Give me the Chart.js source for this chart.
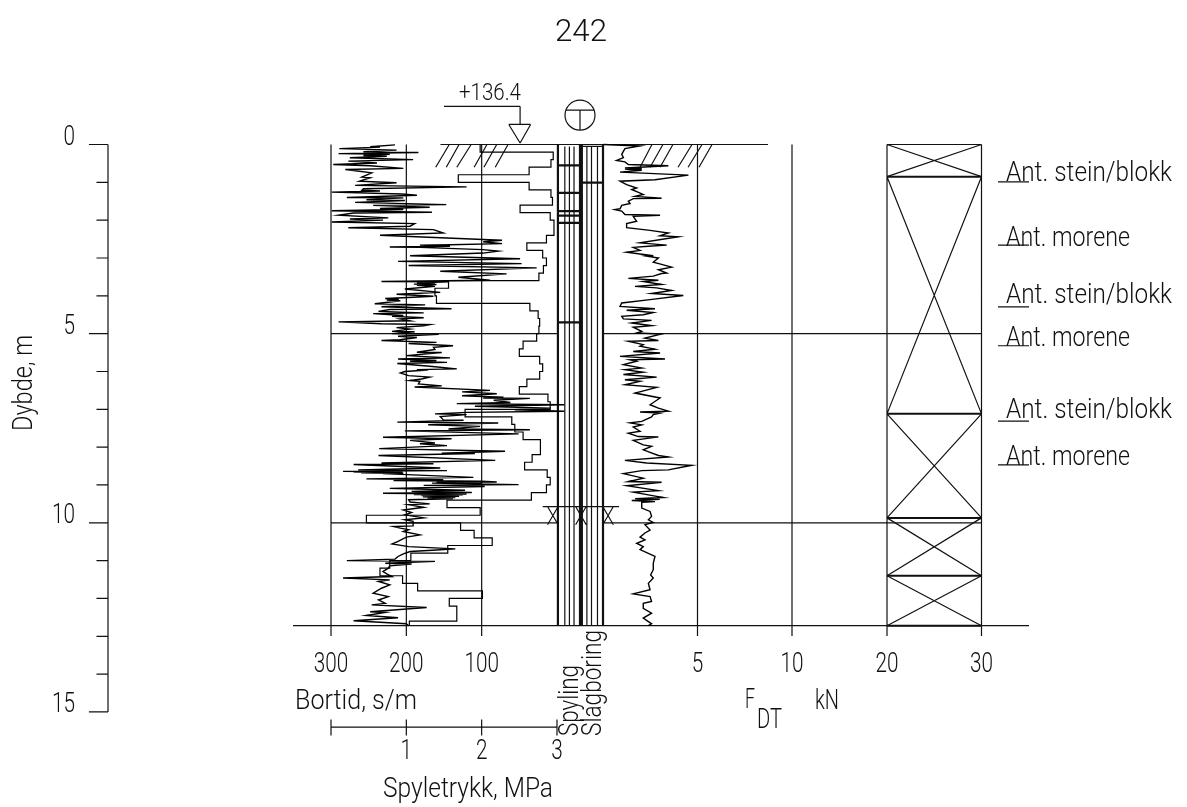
<!DOCTYPE html>
<html>
<head>
<meta charset="utf-8">
<title>242</title>
<script src="https://cdn.jsdelivr.net/npm/chart.js@4"></script>
<style>
  body { margin: 0; background: #fff; }
  canvas { display: block; }
</style>
</head>
<body>
<canvas id="chart" width="1187" height="807"></canvas>
<script>
// tick labels
const depthTicks = [0, 5, 10, 15];
const bortidTicks = [300, 200, 100];
const forceTicks = [5, 10];
const boxTicks = [20, 30];
const pressureTicks = [1, 2, 3];

// Bortid, s/m  [depth m, value]
const bortid = [[.01,215],[.06,248],[.07,235],[.11,289],[.15,213],[.19,257],[.21,184],[.24,290],[.26,222],[.29,257],[.31,226],[.35,275],[.40,191],[.44,277],[.49,239],[.53,297],[.56,248],[.63,204],[.66,281],[.75,246],[.86,259],[.88,248],[.97,262],[1.01,213],[1.08,268],[1.12,120],[1.17,257],[1.21,259],[1.23,235],[1.26,299],[1.31,206],[1.34,186],[1.40,279],[1.41,204],[1.46,253],[1.48,202],[1.53,268],[1.59,147],[1.61,244],[1.66,169],[1.69,235],[1.72,204],[1.75,299],[1.79,166],[1.81,270],[1.87,290],[1.94,224],[1.97,275],[2.0,231],[2.05,299],[2.09,189],[2.16,195],[2.20,277],[2.25,164],[2.34,151],[2.40,235],[2.51,98],[2.53,73],[2.57,98],[2.62,73],[2.65,142],[2.66,182],[2.69,142],[2.71,222],[2.72,182],[2.78,98],[2.82,78],[2.87,98],[2.94,195],[3.02,49],[3.09,211],[3.15,47],[3.2,197],[3.26,27],[3.35,155],[3.42,67],[3.51,131],[3.59,89],[3.62,233],[3.63,144],[3.66,186],[3.67,162],[3.69,190],[3.70,160],[3.72,186],[3.75,162],[3.82,202],[3.91,155],[3.96,213],[4.01,164],
[4.05,205],[4.07,228],[4.09,210],[4.11,226],[4.13,208],[4.17,224],[4.21,242],[4.24,175],[4.29,233],[4.34,140],[4.36,222],[4.41,237],[4.45,177],[4.47,244],[4.52,204],[4.54,219],[4.58,177],[4.61,208],[4.66,195],[4.69,290],[4.74,233],[4.76,169],[4.79,177],[4.84,213],[4.88,195],[4.94,219],[4.95,189],[5.0,219],[5.02,157],[5.07,211],[5.10,186],[5.16,208],[5.18,233],[5.23,160],[5.26,197],[5.32,138],[5.36,164],[5.42,162],[5.49,186],[5.50,153],[5.58,200],[5.64,142],[5.67,211],[5.71,160],[5.73,195],[5.76,146],[5.79,212],[5.86,169],[5.93,133],[5.95,186],[5.96,171],[6.0,202],[6.04,208],[6.11,197],[6.15,169],[6.2,180],[6.24,195],[6.26,182],[6.33,184],[6.38,153],[6.41,189],[6.50,89],[6.54,126],[6.59,80],[6.64,126],[6.68,71],[6.70,98],[6.71,36],[6.76,84],[6.82,62],[6.85,133],[6.88,-10],[6.92,109],[6.97,9],[7.01,56],[7.05,-10],[7.08,120],[7.12,162],[7.14,120],[7.19,155],[7.28,151],[7.29,124],[7.34,212],[7.36,78],[7.41,171],[7.45,102],[7.52,144],[7.54,36],[7.57,202],[7.65,51],[7.74,231],[7.78,140],[7.82,195],[7.89,162],[7.91,182],[7.96,146],[8.04,236],[8.11,69],[8.16,153],[8.17,109],[8.22,237],
[8.35,82],[8.42,233],[8.44,164],[8.46,270],[8.55,155],[8.6,264],[8.62,146],[8.64,284],[8.65,205],[8.66,270],[8.67,210],[8.68,260],[8.69,204],[8.7,231],[8.80,111],[8.84,253],[8.86,151],[8.88,217],[8.90,100],[8.92,80],[8.93,160],[8.94,100],[8.95,166],[8.99,51],[9.01,177],[9.04,96],[9.09,222],[9.14,122],[9.17,193],[9.2,113],[9.22,231],[9.24,120],[9.25,190],[9.26,125],[9.28,180],[9.30,130],[9.31,178],[9.33,135],[9.34,172],[9.365,138],[9.39,197],[9.45,195],[9.50,169],[9.52,197],[9.59,177],[9.66,204],[9.73,193],[9.79,202],[9.87,177],[9.92,202],[9.96,191],[10.08,191],[10.10,217],[10.14,208],[10.18,197],[10.23,204],[10.32,182],[10.38,200],[10.49,211],[10.56,219],[10.63,197],[10.69,135],[10.72,160],[10.74,177],[10.76,195],[10.82,204],[10.89,211],[10.96,215],[11.0,279],[11.02,162],[11.07,228],[11.09,193],[11.14,222],[11.2,224],[11.29,231],[11.35,226],[11.42,219],[11.46,284],[11.51,222],[11.55,237],[11.64,222],[11.73,233],[11.86,244],[11.95,224],[12.04,237],[12.13,228],[12.17,246],[12.24,173],[12.35,248],[12.37,228],[12.45,253],[12.51,211],[12.59,270],[12.67,200],[12.72,197]];

// F_DT, kN  [depth m, value]
const force = [[0,.02],[.04,1.96],[.11,1.16],[.26,.99],[.35,1.08],[.42,.72],[.46,1.16],[.53,1.34],[.56,3.46],[.62,1.16],[.64,2.05],[.65,1.16],[.68,2.05],[.73,.9],[.81,4.52],[.93,2.75],[.97,.9],[1.06,1.25],[1.15,1.78],[1.19,1.52],[1.32,2.13],[1.37,1.69],[1.42,3.1],[1.43,1.6],[1.5,1.34],[1.56,1.43],[1.61,.99],[1.70,.9],[1.72,.63],[1.76,.99],[1.85,1.16],[1.87,3.02],[1.9,1.6],[2.03,1.78],[2.09,1.25],[2.2,1.25],[2.27,2.49],[2.34,3.46],[2.41,3.02],[2.44,3.99],[2.6,1.96],[2.66,3.37],[2.69,2.4],[2.72,1.6],[2.8,1.96],[2.85,1.25],[2.94,2.66],[2.95,2.31],[3,2.93],[3.11,2.66],[3.17,3.1],[3.24,3.63],[3.31,2.93],[3.4,3.37],[3.41,3.1],[3.48,2.66],[3.54,1.34],[3.59,2.93],[3.62,2.13],[3.7,3.1],[3.75,1.69],[3.79,2.84],[3.86,3.63],[3.94,2.57],[3.99,4.25],
[4.1,2.49],[4.19,.99],[4.28,.9],[4.34,2.75],[4.38,1.25],[4.44,2.66],[4.5,2.13],[4.54,.99],[4.61,1.08],[4.65,2.57],[4.72,1.52],[4.79,2.57],[4.83,1.6],[4.94,2.05],[4.98,1.78],[5.01,3.1],[5.12,2.22],[5.18,2.93],[5.2,1.34],[5.29,2.13],[5.33,1.96],[5.41,2.75],[5.47,1.6],[5.51,3.02],[5.6,.9],[5.67,3.28],[5.69,1.43],[5.73,1.78],[5.82,1.08],[5.91,2.05],[5.95,1.16],[6.02,2.13],[6.08,1.08],[6.15,2.84],[6.22,1.16],[6.26,1.96],[6.35,1.16],[6.42,2.84],[6.57,1.69],[6.7,3.02],[6.88,2.49],[6.97,2.93],[7.05,3.46],[7.07,1.96],[7.1,3.02],[7.14,2.66],[7.2,2.57],[7.32,2.05],[7.36,1.43],[7.41,2.05],[7.47,1.6],[7.58,1.96],[7.63,1.34],[7.72,1.87],[7.73,2.93],[7.82,1.6],[7.94,2.13],[7.98,2.57],[8.07,2.13],[8.22,2.93],
[8.26,3.46],[8.35,1.16],[8.42,2.31],[8.48,4.69],[8.6,3.46],[8.62,2.05],[8.7,1.08],[8.82,2.13],[8.91,1.34],[8.93,3.1],[9.02,1.25],[9.15,2.93],[9.19,1.6],[9.3,2.84],[9.33,3.19],[9.36,1.7],[9.38,3.0],[9.41,1.52],[9.44,2.75],[9.46,2.05],[9.61,2.05],[9.7,2.49],[9.83,2.57],[9.92,2.4],[9.99,2.66],[10.05,2.22],[10.19,2.49],[10.27,2.22],[10.38,1.96],[10.45,2.22],[10.54,1.78],[10.63,2.13],[10.71,1.96],[10.89,2.75],[11.07,2.66],[11.24,2.66],[11.38,2.52],[11.46,2.66],[11.6,2.4],[11.77,2.49],[11.88,1.6],[11.95,2.49],[12.08,2.57],[12.13,2.13],[12.26,2.13],[12.39,2.57],[12.52,2.13],[12.67,2.57],[12.72,2.4]];

// Spyletrykk, MPa, one value per 0.2 m interval
const pressureStep = 0.2;
const pressure = [1.98,2.95,2.92,2.63,1.69,2.63,2.92,2.94,2.51,2.91,2.96,2.96,2.86,2.60,2.81,2.86,2.82,2.76,1.56,1.38,
  1.40,2.64,2.75,2.77,2.76,2.73,2.55,2.50,2.77,2.81,2.77,2.60,2.50,2.88,2.91,1.78,2.40,2.44,2.55,2.78,2.78,2.67,
  2.57,2.87,2.91,2.86,2.66,1.54,1.98,0.47,1.72,1.90,2.14,1.55,1.06,0.78,0.65,0.95,1.15,2.01,1.57,1.67,1.67,1.04];

// layers and log details
const bottomDepth = 12.72;
const gridEndDepth = 12.99;
const layerDepths = [0, .85, 7.12, 9.87, 11.4, bottomDepth];
const spylingBars = [.55, 1.28, 1.76, 1.88, 2.07, 4.70];
const slagBars = [1.01];
const spylingLines = [.17, .27, .37];
const slagLines = [.65, .75, .88];
const thickColLines = [.02, .5, .54, 1];
const crossCols = [-.09, .52, 1.11];

// page geometry of the axes
const W = 1187, H = 807;
const Y0 = 144.5, PX_M = 37.83;
const BORT0 = 557, PX_S = 0.7533;
const FORCE0 = 603, PX_KN = 18.9;
const BOX20 = 887, PX_BOX = 9.45;
const PRESS0 = 331, PX_MPA = 75.33;
const COL0 = 557, COLW = 46;

const FONT = 'Roboto';
const INK = '#111';

function range(v0, px0, ppu) {
  return { type: 'linear', display: false, min: v0 - px0 / ppu, max: v0 + (W - px0) / ppu };
}

// turns [x1,d1,x2,d2] pieces into one broken line
function pieces(list) {
  const out = [];
  list.forEach(s => {
    out.push({ x: s[0], y: s[1] }, { x: s[2], y: s[3] }, { x: NaN, y: NaN });
  });
  return out;
}

function lines(xAxisID, list, width) {
  return {
    type: 'line', xAxisID, yAxisID: 'yDepth', data: pieces(list),
    borderColor: INK, borderWidth: width || 1.2, pointRadius: 0, spanGaps: false, tension: 0, fill: false
  };
}

function curve(xAxisID, data, width) {
  return {
    type: 'line', xAxisID, yAxisID: 'yDepth', data,
    borderColor: '#000', borderWidth: width, pointRadius: 0, tension: 0, fill: false
  };
}

const bortidPts = bortid.map(p => ({ x: p[1], y: p[0] }));
const forcePts = force.map(p => ({ x: p[1], y: p[0] }));
const pressurePts = [];
pressure.forEach((p, i) => {
  pressurePts.push({ x: p, y: i * pressureStep });
  pressurePts.push({ x: p, y: Math.min((i + 1) * pressureStep, bottomDepth) });
});

const bortidPieces = bortidTicks.map(v => [v, 0, v, gridEndDepth]);
const forcePieces = forceTicks.map(v => [v, 0, v, gridEndDepth]);
const boxPieces = boxTicks.map(v => [v, 0, v, gridEndDepth]);
boxPieces.push([20, 0, 30, 0]);
for (let i = 0; i < layerDepths.length - 1; i++) {
  boxPieces.push([20, layerDepths[i], 30, layerDepths[i + 1]], [30, layerDepths[i], 20, layerDepths[i + 1]]);
}

const colPieces = [];
[...spylingLines, ...slagLines].forEach(c => colPieces.push([c, 0.05, c, bottomDepth]));
crossCols.forEach(c => colPieces.push([c - .115, 9.57, c + .115, 10.05], [c + .115, 9.57, c - .115, 10.05]));
colPieces.push([-.31, 9.57, 1.35, 9.57]);
colPieces.push([.54, .05, 1, .05]);

const thickPieces = thickColLines.map(c => [c, 0, c, bottomDepth]);
spylingBars.forEach(d => thickPieces.push([.02, d, .5, d]));
slagBars.forEach(d => thickPieces.push([.54, d, 1, d]));

// ground hatching, bottom and top of each stroke
const hatchLeft = [[161, 143], [147, 130], [133, 114], [110, 93], [97, 80], [82, 65]];
const hatchRight = [[1.96, 2.59], [2.49, 3.17], [3.02, 3.7], [3.97, 4.71], [4.5, 5.24], [5.08, 5.77]];

// depth axis on the far left, in kN units of the shared scale
const depthAxisPieces = [[-26.19, 0, -26.19, 15]];
for (let d = 0; d <= 15; d++) {
  if (d % 5 === 0) depthAxisPieces.push([-27.2, d, -26.19, d]);
  else depthAxisPieces.push([-26.8, d, -26.19, d]);
}

const forceFrame = [
  [-8.6, 0, 8.73, 0],
  [-16.4, bottomDepth, 22.54, bottomDepth],
  [0, 5, 20, 5],
  [0, 10, 20, 10]
];
const levelPieces = [
  [150, -1.01, 49, -1.01],
  [49, -1.01, 49, -.53],
  [64, -.53, 35, -.53],
  [64, -.53, 49, -.04],
  [35, -.53, 49, -.04]
];
const pressPieces = [[0, 15.4, 3, 15.4], [0, 15.2, 0, 15.62], ...pressureTicks.map(v => [v, 15.2, v, 15.62])];
const symbolPieces = [[.19, -.91, .81, -.91], [.5, -.91, .5, -.38]];
const splitGrid = [[300, 5, 0, 5], [300, 10, 0, 10]];
const underlinePieces = [.99, 2.66, 4.29, 5.32, 7.31, 8.47].map(d => [20.9, d, 22.54, d]);

const notes = [
  { t: '242', x: 555, y: 41, s: 32, w: 52 },
  { t: '+136.4', x: 459, y: 100, s: 23, w: 62 },
  { t: 'Ant. stein/blokk', x: 1006, y: 181, w: 166 },
  { t: 'Ant. morene', x: 1006, y: 246, w: 124 },
  { t: 'Ant. stein/blokk', x: 1006, y: 303, w: 166 },
  { t: 'Ant. morene', x: 1006, y: 346, w: 124 },
  { t: 'Ant. stein/blokk', x: 1006, y: 418, w: 166 },
  { t: 'Ant. morene', x: 1006, y: 465, w: 124 },
  { t: 'Bortid, s/m', x: 295, y: 709, w: 122 },
  { t: 'Spyletrykk, MPa', x: 383, y: 797, w: 170 },
  { t: 'F', x: 745, y: 708, w: 10 },
  { t: 'DT', x: 757, y: 728, w: 25 },
  { t: 'kN', x: 815, y: 709, w: 24 },
  { t: 'Dybde, m', x: 32, y: 431, w: 96, r: 1 },
  { t: 'Spyling', x: 578, y: 736, w: 71, r: 1 },
  { t: 'Slagboring', x: 601, y: 736, w: 106, r: 1 }
];

function drawText(g, t, x, y, o) {
  o = o || {};
  g.save();
  g.fillStyle = INK;
  g.font = '300 ' + (o.s || 28) + 'px ' + FONT;
  g.textBaseline = 'alphabetic';
  g.textAlign = 'left';
  g.translate(x, y);
  if (o.r) g.rotate(-Math.PI / 2);
  const m = g.measureText(t).width;
  const w = o.w || m * 0.74;
  if (o.a === 'center') g.translate(-w / 2, 0);
  if (o.a === 'right') g.translate(-w, 0);
  g.scale(w / m, 1);
  g.fillText(t, 0, 0);
  g.restore();
}

const textPlugin = {
  id: 'pageText',
  afterDraw(c) {
    const g = c.ctx, s = c.scales;
    depthTicks.forEach(v => drawText(g, String(v), s.xForce.getPixelForValue(-27.94), s.yDepth.getPixelForValue(v) + .5, { a: 'right' }));
    bortidTicks.forEach(v => drawText(g, String(v), s.xBortid.getPixelForValue(v), 672, { a: 'center' }));
    forceTicks.forEach(v => drawText(g, String(v), s.xForce.getPixelForValue(v), 672, { a: 'center' }));
    boxTicks.forEach(v => drawText(g, String(v), s.xBox.getPixelForValue(v), 672, { a: 'center' }));
    pressureTicks.forEach(v => drawText(g, String(v), s.xPressure.getPixelForValue(v), 759, { a: 'center' }));
    notes.forEach(n => drawText(g, n.t, n.x, n.y, n));
  }
};

new Chart(document.getElementById('chart'), {
  type: 'line',
  plugins: [textPlugin],
  data: {
    datasets: [
      curve('xBortid', bortidPts, 1.4),
      curve('xForce', forcePts, 1.4),
      curve('xPressure', pressurePts, 1.2),
      lines('xBortid', bortidPieces),
      lines('xBortid', splitGrid),
      lines('xBortid', levelPieces),
      lines('xBortid', hatchLeft.map(h => [h[0], .6, h[1], 0])),
      lines('xForce', hatchRight.map(h => [h[0], .6, h[1], 0])),
      lines('xForce', forcePieces),
      lines('xForce', forceFrame),
      lines('xForce', depthAxisPieces),
      lines('xForce', underlinePieces),
      lines('xBox', boxPieces),
      lines('xBox', layerDepths.slice(1).map(d => [20, d, 30, d]), 2),
      lines('xPressure', pressPieces),
      lines('xCol', colPieces),
      lines('xCol', thickPieces, 2.2),
      lines('xCol', symbolPieces),
      {
        type: 'scatter', xAxisID: 'xCol', yAxisID: 'yDepth', data: [{ x: .5, y: -.775 }],
        pointRadius: 15, pointBorderColor: INK, pointBackgroundColor: 'rgba(0,0,0,0)', pointBorderWidth: 1.2
      }
    ]
  },
  options: {
    responsive: false,
    animation: false,
    layout: { padding: 0, autoPadding: false },
    plugins: { legend: { display: false }, tooltip: { enabled: false } },
    scales: {
      yDepth: { type: 'linear', display: false, reverse: true, min: -Y0 / PX_M, max: (H - Y0) / PX_M },
      xBortid: { type: 'linear', display: false, reverse: true, min: (BORT0 - W) / PX_S, max: BORT0 / PX_S },
      xForce: range(0, FORCE0, PX_KN),
      xBox: range(20, BOX20, PX_BOX),
      xPressure: range(0, PRESS0, PX_MPA),
      xCol: range(0, COL0, COLW)
    }
  }
});
</script>
</body>
</html>
